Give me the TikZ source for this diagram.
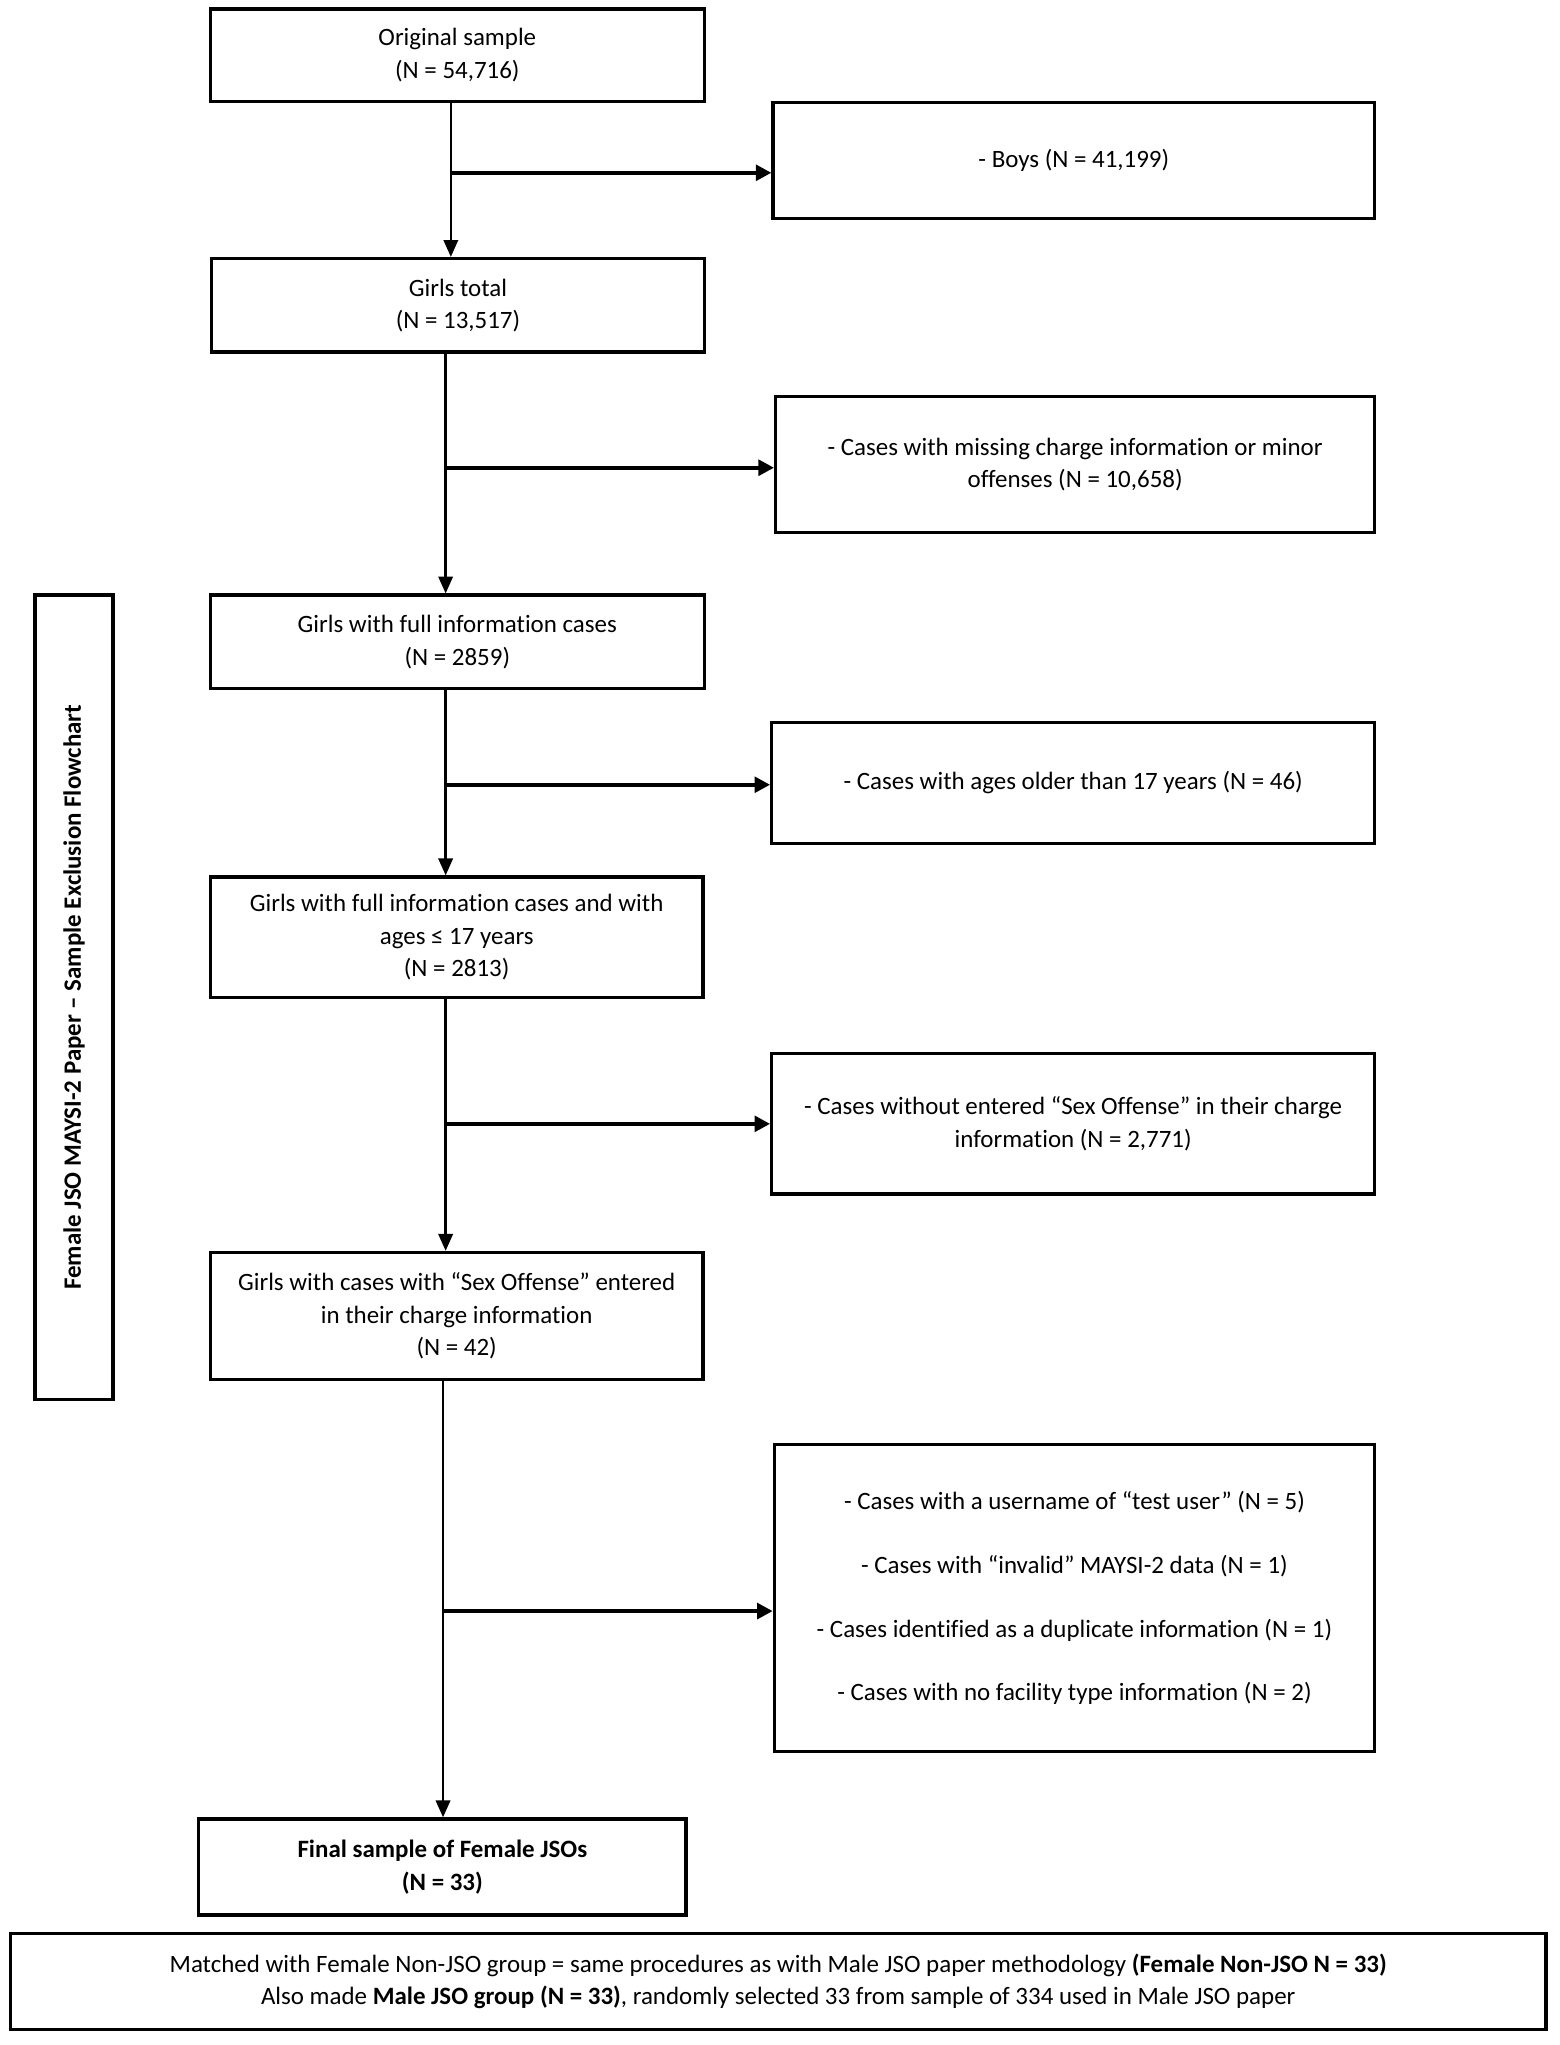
\documentclass[tikz,border=0pt]{standalone}
\usepackage{fontspec}
\setmainfont{Carlito}[RawFeature=-liga]
\usetikzlibrary{arrows.meta}
\begin{document}
\begin{tikzpicture}[x=1pt,y=-1pt,
  box/.style={draw, line width=2.5pt, inner sep=0pt, align=center,
    font=\fontsize{19.2}{25}\selectfont},
  varrow/.style={line width=2pt, -{Triangle[length=13pt,width=11pt]}},
  harrow/.style={line width=3pt, -{Triangle[length=12pt,width=12pt]}}]
\useasboundingbox (0,0) rectangle (1200,1574);
\fill[white] (0,0) rectangle (1200,1574);

\node[box, minimum width=380pt, minimum height=71pt] (b1) at (352,42.5)
  {Original sample\\(N = 54,716)};
\node[box, minimum width=463pt, minimum height=89pt] (e1) at (826.5,123.5)
  {- Boys (N = 41,199)};
\node[box, minimum width=379pt, minimum height=72pt] (b2) at (352.5,235)
  {Girls total\\(N = 13,517)};
\node[box, minimum width=461pt, minimum height=105pt] (e2) at (827.5,357.5)
  {- Cases with missing charge information or minor\\offenses (N = 10,658)};
\node[box, minimum width=380pt, minimum height=72pt] (b3) at (352,494)
  {Girls with full information cases\\(N = 2859)};
\node[box, minimum width=464pt, minimum height=93pt] (e3) at (826,602.5)
  {- Cases with ages older than 17 years (N = 46)};
\node[box, minimum width=379pt, minimum height=93pt] (b4) at (351.5,721.5)
  {Girls with full information cases and with\\ages ≤ 17 years\\(N = 2813)};
\node[box, minimum width=464pt, minimum height=108pt] (e4) at (826,865)
  {- Cases without entered “Sex Offense” in their charge\\information (N = 2,771)};
\node[box, minimum width=379pt, minimum height=98pt] (b5) at (351.5,1013)
  {Girls with cases with “Sex Offense” entered\\in their charge information\\(N = 42)};
\node[box, minimum width=462pt, minimum height=236pt] (e5) at (827,1230)
  {- Cases with a username of “test user” (N = 5)\\[24pt]
   - Cases with “invalid” MAYSI-2 data (N = 1)\\[24pt]
   - Cases identified as a duplicate information (N = 1)\\[24pt]
   - Cases with no facility type information (N = 2)};
\node[box, minimum width=375pt, minimum height=74pt, font=\fontsize{19.2}{25}\selectfont\bfseries] (b6) at (340.5,1437)
  {Final sample of Female JSOs\\(N = 33)};
\node[box, minimum width=1182pt, minimum height=74pt] (bot) at (599,1525)
  {Matched with Female Non-JSO group = same procedures as with Male JSO paper methodology \textbf{(Female Non-JSO N = 33)}\\
   Also made \textbf{Male JSO group (N = 33)}, randomly selected 33 from sample of 334 used in Male JSO paper};
\node[box, minimum width=60pt, minimum height=619pt] (side) at (57,767.5) {};
\node[rotate=90, font=\fontsize{19.2}{25}\selectfont\bfseries] (sidet) at (side.center)
  {Female JSO MAYSI-2 Paper – Sample Exclusion Flowchart};

\coordinate (j1) at (347,133);
\coordinate (j2) at (343,360);
\coordinate (j3) at (343,604);
\coordinate (j4) at (343,865);
\coordinate (j5) at (341,1240);

\draw[varrow] (b1.south -| j1) -- (b2.north -| j1);
\draw[varrow] (b2.south -| j2) -- (b3.north -| j2);
\draw[varrow] (b3.south -| j3) -- (b4.north -| j3);
\draw[varrow] (b4.south -| j4) -- (b5.north -| j4);
\draw[varrow] (b5.south -| j5) -- (b6.north -| j5);

\draw[harrow] (j1) -- (j1 -| e1.west);
\draw[harrow] (j2) -- (j2 -| e2.west);
\draw[harrow] (j3) -- (j3 -| e3.west);
\draw[harrow] (j4) -- (j4 -| e4.west);
\draw[harrow] (j5) -- (j5 -| e5.west);
\end{tikzpicture}
\end{document}
